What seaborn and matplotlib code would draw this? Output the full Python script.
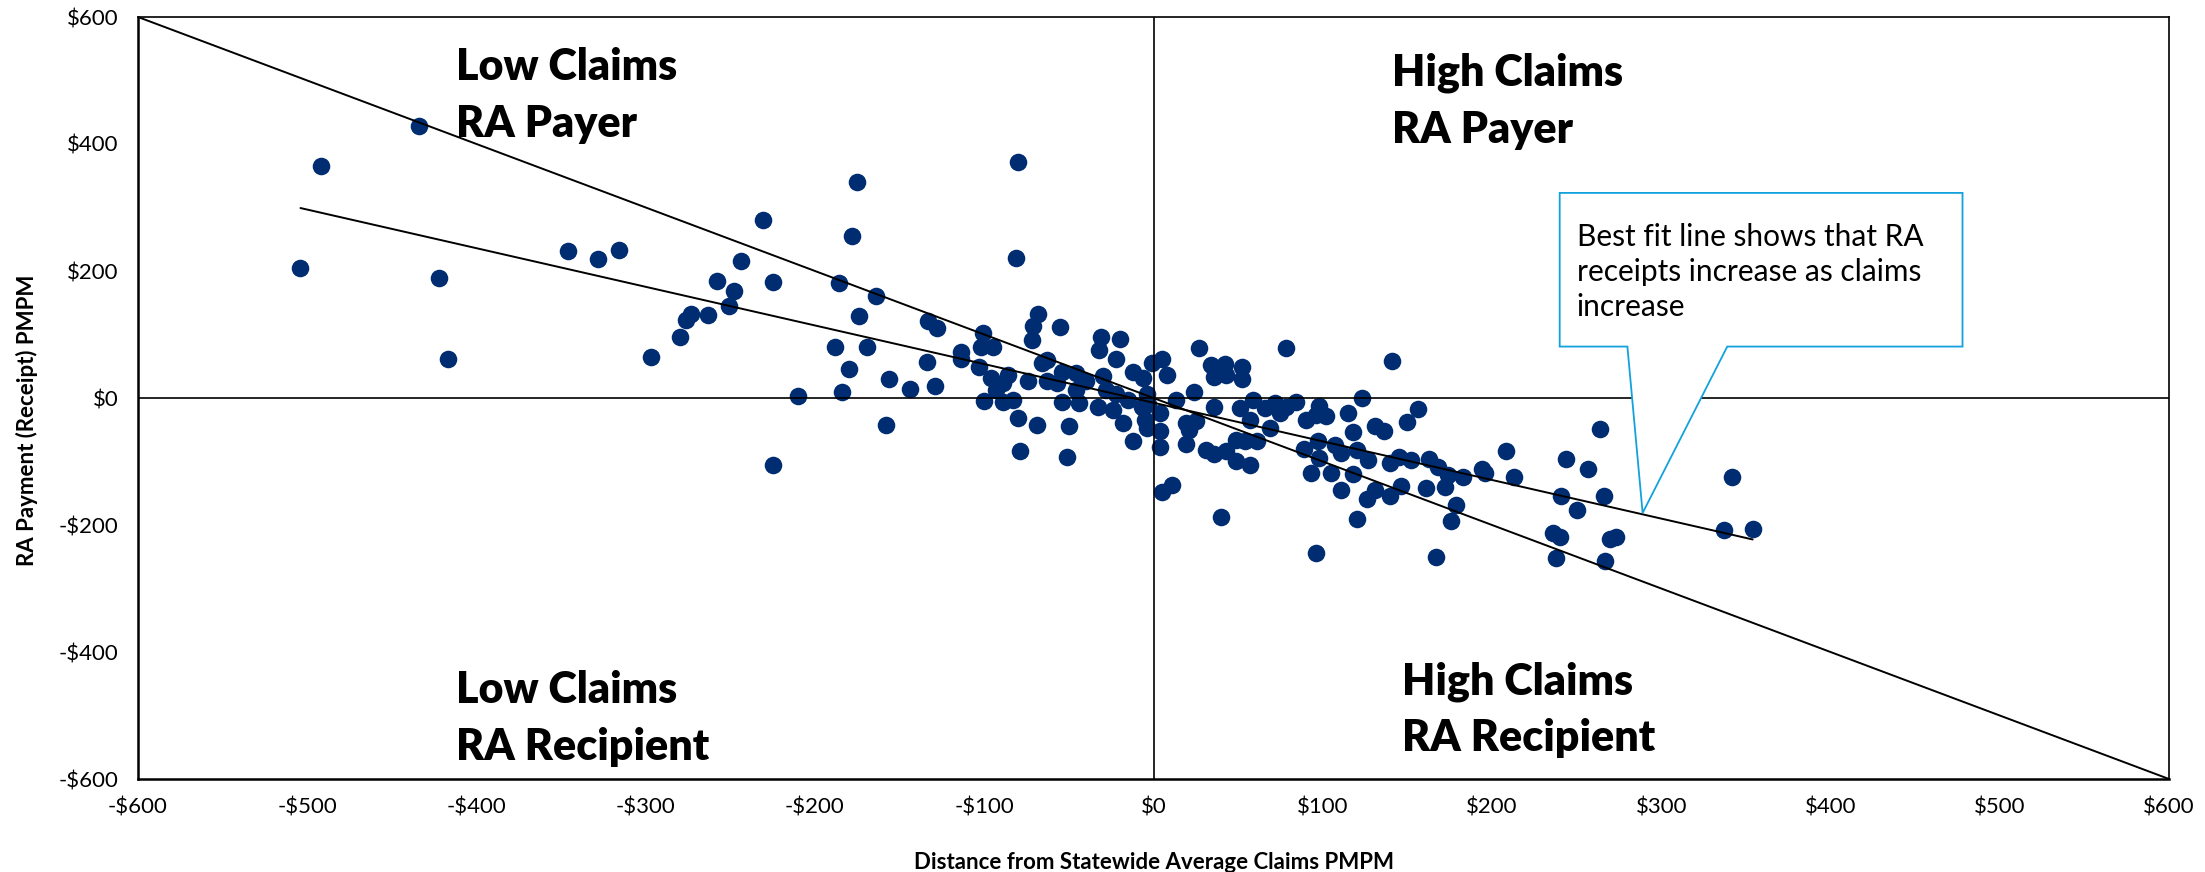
import numpy as np
import pandas as pd
import matplotlib
matplotlib.use("Agg")
from matplotlib import pyplot as plt
from matplotlib.patches import Polygon
from matplotlib.ticker import FuncFormatter
import seaborn as sns

# distance from statewide average claims PMPM (x) vs RA payment / receipt PMPM (y)
claims_dist = [
    -504, -492, -434, -422, -417, -346, -328, -316, -297, -280, -276, -273, -263, -258, -251,
    -248, -244, -231, -225, -225, -210, -188, -186, -184, -180, -178, -175, -174, -169, -164,
    -158, -156, -144, -134, -133, -129, -128, -114, -114, -101, -102, -95, -103, -96, -89,
    -86, -93, -100, -89, -83, -80, -69, -79, -50, -51, -74, -66, -63, -54, -46,
    -57, -63, -54, -44, -46, -40, -33, -30, -24, -18, -12, -15, -12, -6, -1,
    -4, -7, -4, -28, -22, -68, -71, -72, -55, -31, -20, -32, -22, -80, -81,
    27, 78, 5, 8, 34, 42, 52, 52, 36, 43, 24, 36, 13, 4, -3,
    -5, 4, 4, 19, 25, 19, 31, 36, 43, 49, 57, 49, 54, 61, 51,
    59, 57, 66, 72, 75, 69, 78, 84, 90, 98, 102, 96, 89, 93, 98,
    105, 97, 107, 11, 5, 21, 40, 96, 115, 123, 141, 150, 156, 131, 136,
    118, 111, 120, 127, 118, 111, 140, 145, 152, 163, 168, 174, 183, 194, 196,
    208, 213, 146, 161, 172, 131, 126, 140, 179, 176, 120, 167, 264, 244, 257,
    241, 266, 250, 236, 240, 238, 270, 273, 267, 342, 337, 354,
]
ra_payment = [
    205, 366, 428, 189, 61, 231, 219, 233, 64, 96, 123, 133, 131, 184, 145,
    169, 215, 281, 183, -106, 3, 80, 181, 9, 46, 255, 340, 129, 80, 161,
    -43, 30, 14, 56, 121, 19, 110, 73, 61, 103, 81, 81, 49, 31, 23,
    36, 13, -4, -6, -3, -32, -42, -84, -44, -93, 26, 55, 60, 41, 39,
    23, 26, -6, -8, 13, 26, -14, 34, -19, -40, -67, -3, 41, 32, 55,
    7, -14, -48, 13, 7, 132, 113, 92, 112, 96, 93, 76, 62, 371, 220,
    79, 79, 61, 36, 52, 54, 49, 30, 33, 36, 10, -14, -3, -24, -10,
    -35, -52, -77, -40, -36, -73, -82, -88, -83, -100, -105, -66, -67, -67, -16,
    -3, -35, -16, -8, -24, -48, -14, -6, -34, -12, -29, -27, -80, -118, -95,
    -118, -68, -74, -137, -148, -50, -188, -244, -23, 0, 59, -38, -17, -44, -52,
    -54, -87, -82, -98, -119, -145, -103, -93, -98, -96, -108, -121, -124, -112, -118,
    -84, -124, -138, -142, -140, -145, -159, -155, -168, -193, -190, -251, -49, -96, -112,
    -154, -155, -177, -213, -219, -252, -222, -219, -256, -124, -208, -207,
]

# break-even reference line (payment exactly offsets claims distance)
ref_x = [-600, 600]
ref_y = [-v for v in ref_x]

x_ticks = list(range(-600, 601, 100))
y_ticks = list(range(-600, 601, 200))

quad_labels = ["Low Claims\nRA Payer", "High Claims\nRA Payer",
               "Low Claims\nRA Recipient", "High Claims\nRA Recipient"]
quad_x = [-412, 141, -412, 147]
quad_y = [476, 467, -505, -491]

callout_text = "Best fit line shows that RA\nreceipts increase as claims\nincrease"

df = pd.DataFrame({"dist": claims_dist, "ra": ra_payment})

sns.set_style("white")
plt.rcParams['font.family'] = ['Lato', 'DejaVu Sans']
plt.rcParams['text.color'] = 'black'
plt.rcParams['axes.labelcolor'] = 'black'

fig = plt.figure(figsize=(22.05, 8.72), dpi=100)
ax = fig.add_axes([138 / 2205, 1 - 779 / 872, (2169 - 138) / 2205, (779 - 17) / 872])

navy = "#002D72"
sns.scatterplot(data=df, x="dist", y="ra", ax=ax, color=navy, s=160,
                linewidth=0, zorder=2, legend=False)
sns.regplot(data=df, x="dist", y="ra", ax=ax, scatter=False, ci=None, truncate=True,
            line_kws={"color": "black", "lw": 1.4, "zorder": 4})
ax.plot(ref_x, ref_y, color="black", lw=1.4, zorder=4)
ax.axhline(0, color="black", lw=1.2, zorder=3)
ax.axvline(0, color="black", lw=1.2, zorder=3)

ax.set_xlim(-600, 600)
ax.set_ylim(-600, 600)
ax.set_xticks(x_ticks)
ax.set_yticks(y_ticks)
money = FuncFormatter(lambda v, p: f"-${abs(v):.0f}" if v < 0 else f"${v:.0f}")
ax.xaxis.set_major_formatter(money)
ax.yaxis.set_major_formatter(money)
ax.tick_params(axis="x", length=0, pad=13, labelsize=16, colors="black")
ax.tick_params(axis="y", length=0, pad=14, labelsize=16, colors="black")

for side in ["left", "bottom"]:
    ax.spines[side].set_linewidth(1.8)
    ax.spines[side].set_color("black")
for side in ["top", "right"]:
    ax.spines[side].set_linewidth(1.2)
    ax.spines[side].set_color("black")

ax.set_xlabel("Distance from Statewide Average Claims PMPM", fontsize=16,
              fontweight="bold", va="center")
ax.set_ylabel("RA Payment (Receipt) PMPM", fontsize=16, fontweight="bold", va="center")
ax.xaxis.set_label_coords(0.5, -0.11)
ax.yaxis.set_label_coords(-0.0547, 0.471)

for lab, qx, qy in zip(quad_labels, quad_x, quad_y):
    ax.text(qx, qy, lab, fontsize=31, fontweight="heavy", ha="left", va="center",
            linespacing=1.5, zorder=6)

# callout bubble pointing at the best fit line
box_l, box_r, box_t, box_b = 240, 478, 323, 81
tip = (289, -181)
bubble = Polygon([(box_l, box_t), (box_r, box_t), (box_r, box_b), (339, box_b), tip,
                  (280, box_b), (box_l, box_b)], closed=True, facecolor="white",
                 edgecolor="#13A1DE", lw=1.3, zorder=5)
ax.add_patch(bubble)
ax.text(250, 199, callout_text, fontsize=21.5, ha="left", va="center",
        linespacing=1.3, zorder=6)

fig.savefig("out.png", dpi=100)
